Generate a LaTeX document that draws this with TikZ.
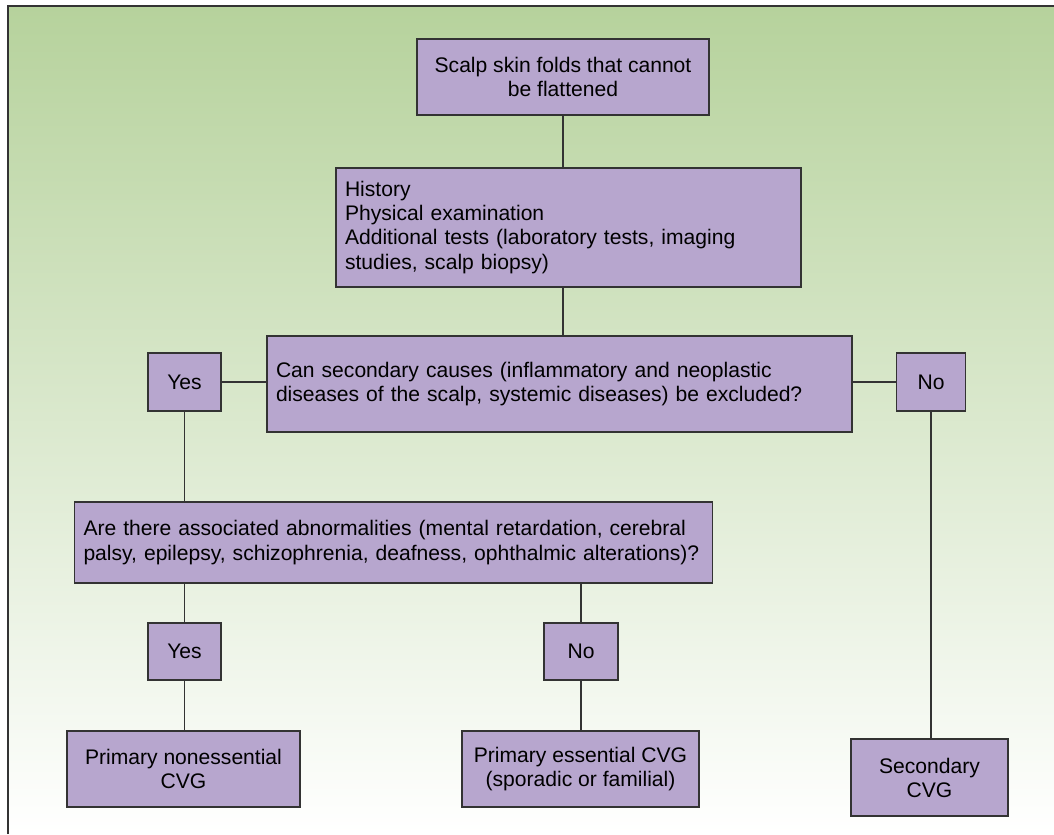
\documentclass[tikz,border=0pt]{standalone}
\usepackage{fontspec}
\setmainfont{Liberation Sans}
\definecolor{boxfill}{HTML}{B7A6CE}
\definecolor{panelgreen}{HTML}{B6D29C}
\definecolor{linegray}{HTML}{333333}
\begin{document}
\begin{tikzpicture}[
  font=\fontsize{12}{13.7}\selectfont,
  box/.style={draw=linegray, line width=0.9pt, fill=boxfill, inner sep=0pt,
              align=center},
  textbox/.style={box, inner xsep=0.18cm, align=left},
  link/.style={draw=linegray, line width=0.8pt}
]
\useasboundingbox (0,0) rectangle (21.08,-16.68);
\shade[top color=panelgreen, bottom color=white] (0.16,-0.12) rectangle (21.08,-16.68);
\draw[draw=linegray, line width=1.4pt] (0.16,-16.68) -- (0.16,-0.12) -- (21.08,-0.12);

\node[box, minimum width=5.84cm, minimum height=1.52cm] (scalp) at (11.26,-1.54)
  {Scalp skin folds that cannot\\be flattened};
\node[textbox, text width=8.94cm, minimum height=2.38cm] (history) at (11.37,-4.55)
  {History\\Physical examination\\Additional tests (laboratory tests, imaging\\studies, scalp biopsy)};
\node[textbox, text width=11.34cm, minimum height=1.92cm] (secondary) at (11.19,-7.68)
  {Can secondary causes (inflammatory and neoplastic\\diseases of the scalp, systemic diseases) be excluded?};
\node[box, minimum width=1.46cm, minimum height=1.16cm] (yesone) at (3.69,-7.64) {Yes};
\node[box, minimum width=1.38cm, minimum height=1.16cm] (noone) at (18.62,-7.64) {No};
\node[textbox, text width=12.4cm, minimum height=1.62cm] (associated) at (7.87,-10.85)
  {Are there associated abnormalities (mental retardation, cerebral\\palsy, epilepsy, schizophrenia, deafness, ophthalmic alterations)?};
\node[box, minimum width=1.46cm, minimum height=1.14cm] (yestwo) at (3.69,-13.03) {Yes};
\node[box, minimum width=1.48cm, minimum height=1.14cm] (notwo) at (11.62,-13.03) {No};
\node[box, minimum width=4.66cm, minimum height=1.52cm] (nonessential) at (3.67,-15.38)
  {Primary nonessential\\CVG};
\node[box, minimum width=4.74cm, minimum height=1.52cm] (essential) at (11.61,-15.38)
  {Primary essential CVG\\(sporadic or familial)};
\node[box, minimum width=3.14cm, minimum height=1.54cm] (secondarycvg) at (18.59,-15.55)
  {Secondary\\CVG};

\draw[link] (scalp.south) -- (scalp.south |- history.north);
\draw[link] (scalp.south |- history.south) -- (scalp.south |- secondary.north);
\draw[link] (yesone.east) -- (yesone.east -| secondary.west);
\draw[link] (secondary.east |- noone.west) -- (noone.west);
\draw[link] (yesone.south) -- (yesone.south |- associated.north);
\draw[link] (noone.south) -- (noone.south |- secondarycvg.north);
\draw[link] (yestwo.north |- associated.south) -- (yestwo.north);
\draw[link] (notwo.north |- associated.south) -- (notwo.north);
\draw[link] (yestwo.south) -- (yestwo.south |- nonessential.north);
\draw[link] (notwo.south) -- (notwo.south |- essential.north);
\end{tikzpicture}
\end{document}
